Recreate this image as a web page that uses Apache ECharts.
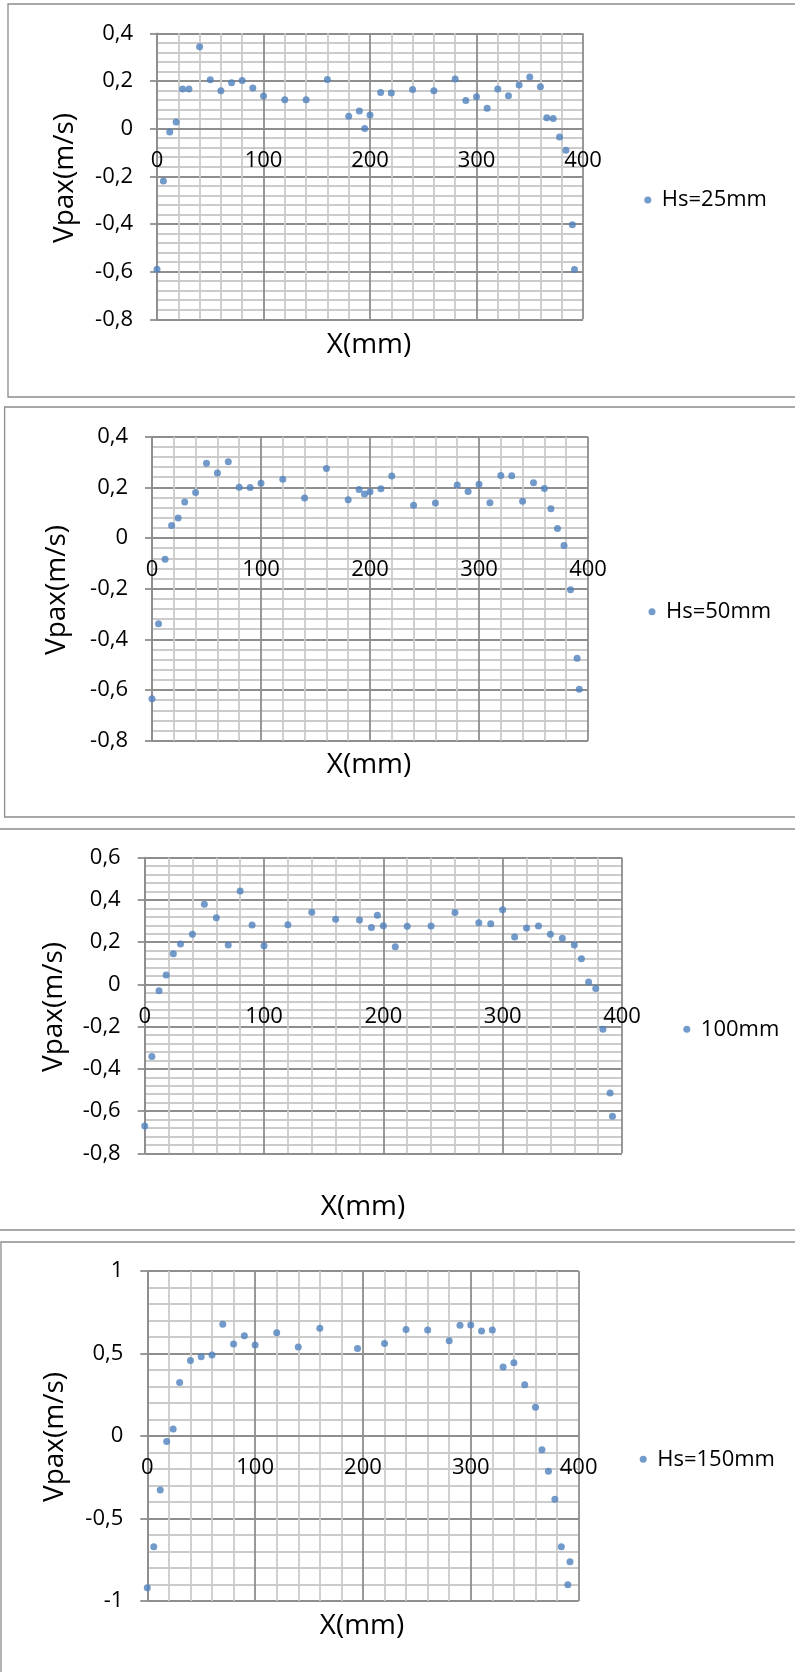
<!DOCTYPE html>
<html>
<head>
<meta charset="utf-8">
<script src="https://cdn.jsdelivr.net/npm/echarts@6/dist/echarts.min.js"></script>
<style>
html,body{margin:0;padding:0;background:#fff;}
#c{width:795px;height:1672px;}
</style>
</head>
<body>
<div id="c"></div>
<script>
// ---- data ----
const X_MM = [0,6,12,18,24,30,40,50,60,70,80,90,100,120,140,160,180,190,195,200,210,220,240,260,280,290,300,310,320,330,340,350,360,366,372,378,384,390,392];
const HS25 = [-0.59,-0.22,-0.014,0.028,0.166,0.166,0.344,0.205,0.159,0.192,0.202,0.17,0.137,0.121,0.121,0.206,0.052,0.074,0.001,0.057,0.152,0.15,0.164,0.159,0.208,0.118,0.134,0.086,0.166,0.138,0.183,0.217,0.176,0.046,0.042,-0.035,-0.091,-0.403,-0.591];
const HS50 = [-0.634,-0.338,-0.084,0.049,0.079,0.142,0.18,0.295,0.257,0.301,0.2,0.199,0.216,0.232,0.158,0.274,0.151,0.192,0.174,0.183,0.195,0.245,0.129,0.138,0.209,0.184,0.212,0.139,0.247,0.246,0.145,0.218,0.196,0.116,0.038,-0.029,-0.204,-0.475,-0.597];
const HS100 = [-0.671,-0.342,-0.03,0.044,0.145,0.191,0.237,0.379,0.316,0.186,0.442,0.281,0.183,0.283,0.342,0.309,0.305,0.27,0.327,0.278,0.178,0.275,0.276,0.341,0.292,0.287,0.354,0.224,0.267,0.276,0.237,0.218,0.186,0.122,0.011,-0.019,-0.212,-0.515,-0.624];
const HS150 = [-0.919,-0.671,-0.327,-0.034,0.042,0.325,0.457,0.481,0.491,0.677,0.558,0.608,0.552,0.626,0.539,0.653,null,null,0.531,null,null,0.56,0.646,0.642,0.578,0.671,0.673,0.636,0.642,0.418,0.444,0.311,0.174,-0.083,-0.214,-0.384,-0.671,-0.901,-0.762];
const SERIES_NAMES = ['Hs=25mm','Hs=50mm','100mm','Hs=150mm'];
const SERIES_VALUES = [HS25, HS50, HS100, HS150];
const X_AXIS_TITLE = 'X(mm)';
const Y_AXIS_TITLE = 'Vpax(m/s)';
const Y_RANGES = [[-0.8,0.4,0.2],[-0.8,0.4,0.2],[-0.8,0.6,0.2],[-1,1,0.5]];
const X_RANGE = [0,400,100];

// ---- layout ----
const PANELS = [
  {grid:{left:157,top:33.3,width:426,height:286}, legend:[644.3,189], yt:[65,178], xt:[369,345], box:[8,4,800,393]},
  {grid:{left:152,top:436.7,width:436,height:304}, legend:[648.5,600.7], yt:[57,590], xt:[369,765], box:[4.6,407,800,410]},
  {grid:{left:144.7,top:857.7,width:477.3,height:295.6}, legend:[683.3,1018.3], yt:[54,1007], xt:[363,1207], box:[-3,829,805,401]},
  {grid:{left:147.3,top:1271,width:431.3,height:330}, legend:[639.7,1448.3], yt:[55.5,1437], xt:[362,1626], box:[1,1242,800,450]}
];
const FONT = 'Open Sans';
const MAJOR = '#8e8e8e', MINOR = '#cbcbcb', DOT = '#4f81bd';
const LW = 1.8;

function fmt(v){ const r = Math.round(v*100)/100; return String(r).replace('.',','); }

const option = {
  animation:false,
  backgroundColor:'#fff',
  grid:[], xAxis:[], yAxis:[], series:[], legend:[], graphic:[]
};

PANELS.forEach((p,i)=>{
  const yr = Y_RANGES[i];
  // x axis crosses the y axis at value 0: shift it up from the grid bottom
  const zeroShift = p.grid.height * (0 - yr[0]) / (yr[1] - yr[0]);
  option.grid.push(Object.assign({containLabel:false}, p.grid));
  option.xAxis.push({
    type:'value', gridIndex:i, min:X_RANGE[0], max:X_RANGE[1], interval:X_RANGE[2],
    position:'bottom', offset:-zeroShift,
    axisLine:{show:true, onZero:false, lineStyle:{color:MAJOR,width:LW}},
    axisTick:{show:false},
    axisLabel:{color:'#000', fontFamily:FONT, fontSize:22, margin:21},
    splitLine:{show:true, lineStyle:{color:MAJOR,width:LW}},
    minorTick:{show:false, splitNumber:5},
    minorSplitLine:{show:true, lineStyle:{color:MINOR,width:LW}}
  });
  option.yAxis.push({
    type:'value', gridIndex:i, min:yr[0], max:yr[1], interval:yr[2],
    axisLine:{show:true, onZero:false, lineStyle:{color:MAJOR,width:LW}},
    axisTick:{show:true, inside:false, length:7, lineStyle:{color:MAJOR,width:LW}},
    axisLabel:{color:'#000', fontFamily:FONT, fontSize:22, margin:24, formatter:fmt},
    splitLine:{show:true, lineStyle:{color:MAJOR,width:LW}},
    minorTick:{show:false, splitNumber:5},
    minorSplitLine:{show:true, lineStyle:{color:MINOR,width:LW}}
  });
  const vals = SERIES_VALUES[i];
  const data = [];
  X_MM.forEach((x,k)=>{ if (vals[k] !== null) data.push([x, vals[k]]); });
  option.series.push({
    type:'scatter', name:SERIES_NAMES[i], xAxisIndex:i, yAxisIndex:i,
    symbol:'circle', symbolSize:7, itemStyle:{color:DOT}, data:data, z:5
  });
  option.legend.push({
    data:[SERIES_NAMES[i]], left:p.legend[0], top:p.legend[1], padding:0,
    icon:'circle', itemWidth:18, itemHeight:7, orient:'vertical',
    textStyle:{color:'#000', fontFamily:FONT, fontSize:22}
  });
  option.graphic.push({
    type:'rect', silent:true, z:-1,
    shape:{x:p.box[0], y:p.box[1], width:p.box[2], height:p.box[3]},
    style:{fill:'none', stroke:'#8c8c8c', lineWidth:1.3}
  });
  option.graphic.push({
    type:'text', x:p.yt[0], y:p.yt[1], rotation:Math.PI/2,
    style:{text:Y_AXIS_TITLE, fill:'#000', font:'28px "Open Sans"', textAlign:'center', textVerticalAlign:'middle'}
  });
  option.graphic.push({
    type:'text', x:p.xt[0], y:p.xt[1],
    style:{text:X_AXIS_TITLE, fill:'#000', font:'28px "Open Sans"', textAlign:'center', textVerticalAlign:'middle'}
  });
});

const chart = echarts.init(document.getElementById('c'), null, {renderer:'canvas'});
chart.setOption(option);
</script>
</body>
</html>
